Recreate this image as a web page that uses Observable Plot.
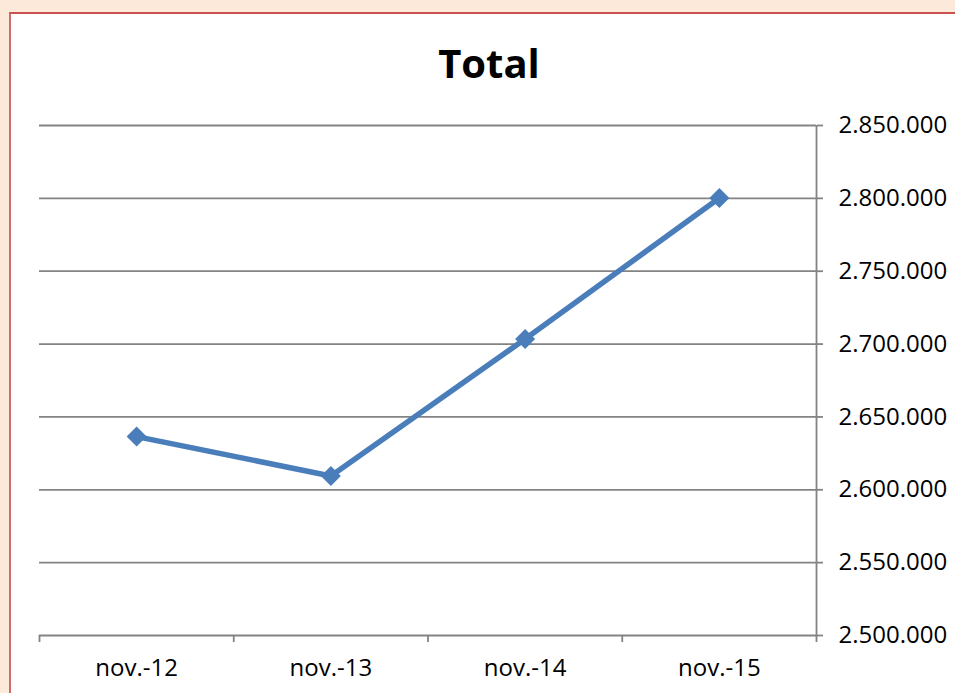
<!DOCTYPE html>
<html>
<head>
<meta charset="utf-8">
<script src="https://cdn.jsdelivr.net/npm/d3@7"></script>
<script src="https://cdn.jsdelivr.net/npm/@observablehq/plot@0.6"></script>
<style>
  html, body { margin: 0; padding: 0; }
  body { width: 955px; height: 693px; background: #FDE9D9; position: relative; overflow: hidden; font-family: "Open Sans", sans-serif; }
  #frame { position: absolute; left: 9px; top: 12px; width: 1000px; height: 800px; background: #fff; border-left: 2px solid #CF6B69; border-top: 2px solid #C9524F; }
  #title { position: absolute; left: 0; width: 978px; top: 36px; text-align: center; font-family: "Open Sans", sans-serif; font-weight: 700; font-size: 40px; line-height: 54px; color: #000; }
  #chart { position: absolute; left: 0; top: 0; }
</style>
</head>
<body>
<div id="frame"></div>
<div id="title">Total</div>
<div id="chart"></div>
<script>
const categories = ["nov.-12", "nov.-13", "nov.-14", "nov.-15"];
const totals = [2636500, 2609500, 2703500, 2800200];
const yTicks = [2500000, 2550000, 2600000, 2650000, 2700000, 2750000, 2800000, 2850000];
const xBoundaries = [0, 1, 2, 3, 4];

const data = categories.map((c, i) => ({cat: c, pos: i + 0.5, value: totals[i]}));
const fmt = d3.format(",.0f");
const euro = v => fmt(v).replace(/,/g, ".");

const chart = Plot.plot({
  width: 955,
  height: 693,
  marginLeft: 39,
  marginRight: 139,
  marginTop: 125,
  marginBottom: 58,
  style: {background: "transparent", fontFamily: "Open Sans, sans-serif", fontSize: "24px", color: "#000"},
  x: {type: "linear", domain: [0, 4], label: null},
  y: {type: "linear", domain: [2500000, 2850000], label: null},
  marks: [
    Plot.gridY(yTicks, {stroke: "#838383", strokeWidth: 1.8, strokeOpacity: 1}),
    Plot.axisY(yTicks, {anchor: "right", label: null, tickSize: 6, tickPadding: 16, stroke: "#838383", strokeWidth: 1.8, tickFormat: euro, fill: "#000", fontSize: 24, textAnchor: "start"}),
    Plot.ruleX([4], {y1: 2500000, y2: 2850000, stroke: "#838383", strokeWidth: 1.8}),
    Plot.axisX(xBoundaries, {anchor: "bottom", label: null, tickSize: 7, stroke: "#838383", strokeWidth: 1.8, tickFormat: () => ""}),
    Plot.text(data, {x: "pos", y: () => 2500000, text: "cat", dy: 33, fontSize: 24, fill: "#000"}),
    Plot.line(data, {x: "pos", y: "value", stroke: "#4A7EBB", strokeWidth: 5.5, strokeLinejoin: "round"}),
    Plot.dot(data, {x: "pos", y: "value", symbol: "diamond2", r: 9, fill: "#4A7EBB", stroke: "none"})
  ]
});
document.getElementById("chart").appendChild(chart);
</script>
</body>
</html>
